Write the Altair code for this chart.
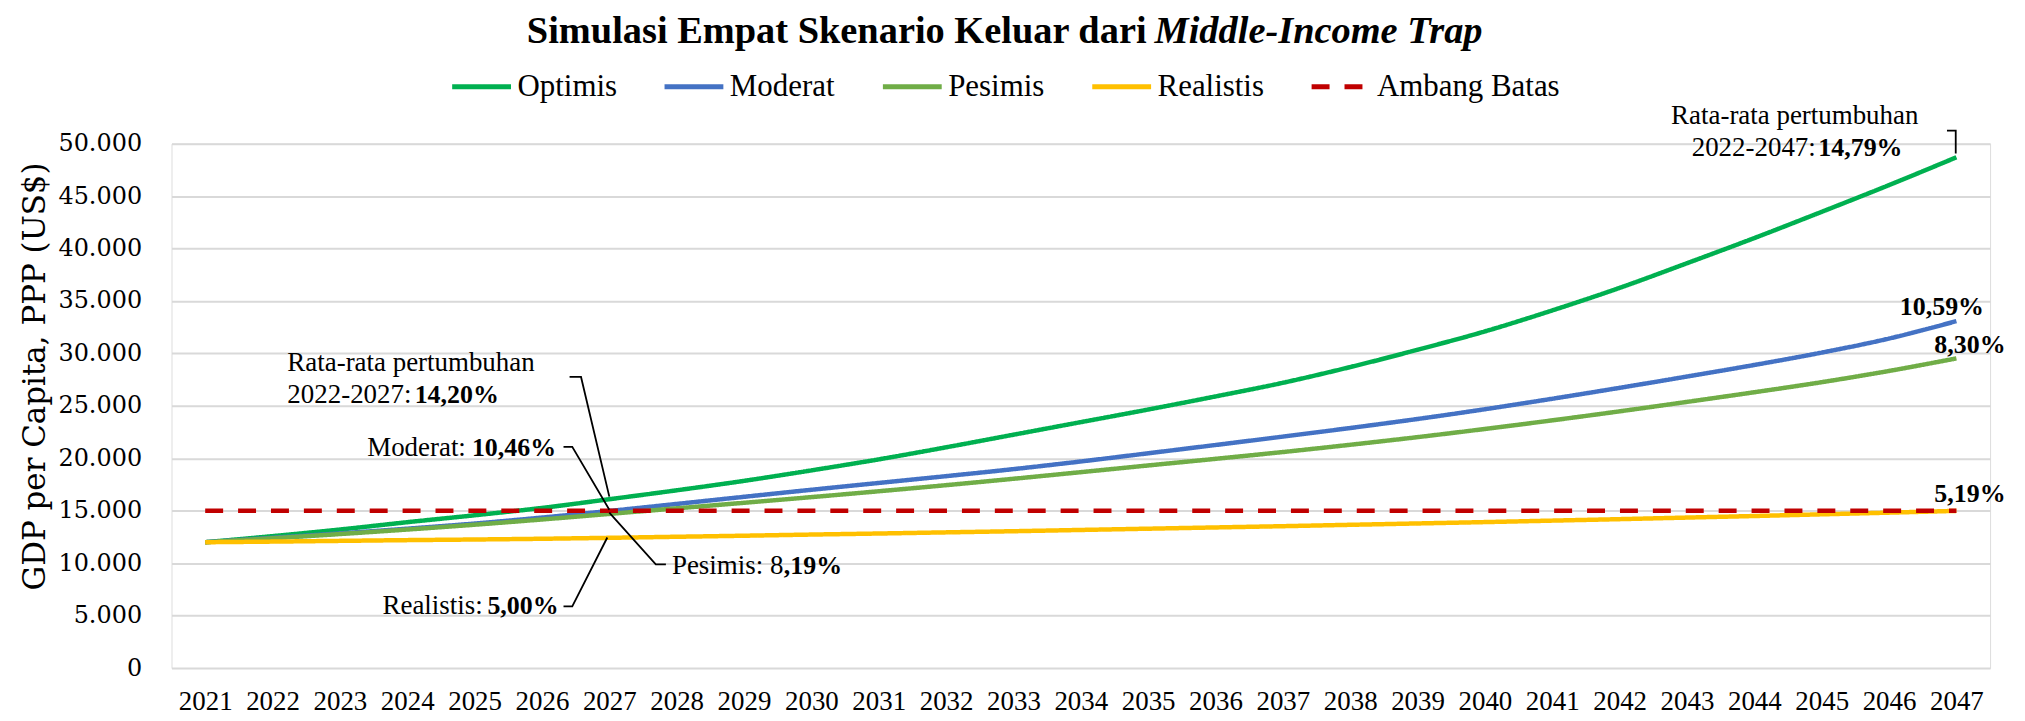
import altair as alt
import pandas as pd

# ---------------- data ----------------
years = list(range(2021, 2048))
optimis = [12000, 12580, 13210, 13910, 14570, 15270, 16100, 16950, 17850, 18850,
           19900, 21050, 22250, 23450, 24650, 25900, 27200, 28700, 30350, 32100,
           34100, 36250, 38600, 41000, 43500, 46050, 48700]
moderat = [12000, 12420, 12840, 13290, 13780, 14350, 14980, 15650, 16330, 17000,
           17650, 18300, 18970, 19700, 20480, 21270, 22070, 22890, 23750, 24680,
           25680, 26720, 27800, 28900, 30080, 31420, 33080]
pesimis = [12000, 12380, 12780, 13210, 13670, 14170, 14700, 15230, 15760, 16300,
           16860, 17440, 18050, 18680, 19320, 19950, 20600, 21290, 22020, 22800,
           23620, 24480, 25380, 26300, 27260, 28330, 29530]
realistis = [12000, 12060, 12130, 12200, 12260, 12330, 12420, 12520, 12620, 12730,
             12830, 12940, 13050, 13170, 13290, 13410, 13530, 13660, 13790, 13920,
             14060, 14200, 14350, 14500, 14660, 14820, 14990]
ambang = [15000, 15000, 15000, 15000, 15000, 15000, 15000, 15000, 15000, 15000,
          15000, 15000, 15000, 15000, 15000, 15000, 15000, 15000, 15000, 15000,
          15000, 15000, 15000, 15000, 15000, 15000, 15000]

series_names = ["Optimis", "Moderat", "Pesimis", "Realistis", "Ambang Batas"]
series_values = [optimis, moderat, pesimis, realistis, ambang]
series_colors = ["#00B050", "#4472C4", "#70AD47", "#FFC000", "#C00000"]
series_dash = [[1, 0], [1, 0], [1, 0], [1, 0], [18, 15]]

y_ticks = [0, 5000, 10000, 15000, 20000, 25000, 30000, 35000, 40000, 45000, 50000]

# annotation texts (year position, value position, text)
reg_left_x = [2022.22, 2022.22, 2027.93, 2043.07]
reg_left_y = [29090, 26050, 9700, 49620]
reg_left_t = ["Rata-rata pertumbuhan", "2022-2027:", "Pesimis: 8", "2022-2047:"]

reg_right_x = [2024.87, 2025.12]
reg_right_y = [21010, 5890]
reg_right_t = ["Moderat:", "Realistis:"]

reg_center_x = [2044.60]
reg_center_y = [52660]
reg_center_t = ["Rata-rata pertumbuhan"]

bold_left_x = [2024.11, 2024.96, 2029.59, 2025.19, 2044.95]
bold_left_y = [26050, 21010, 9700, 5890, 49620]
bold_left_t = ["14,20%", "10,46%", ",19%", "5,00%", "14,79%"]

bold_right_x = [2047.41, 2047.73, 2047.73]
bold_right_y = [34410, 30800, 16640]
bold_right_t = ["10,59%", "8,30%", "5,19%"]

# leader lines
lead_grp = [1, 1, 1, 2, 2, 2, 3, 3, 3, 4, 4, 4, 5, 5, 5]
lead_ord = [0, 1, 2, 0, 1, 2, 0, 1, 2, 0, 1, 2, 0, 1, 2]
lead_x = [2026.41, 2026.58, 2027.00, 2026.32, 2026.45, 2027.00,
          2027.00, 2027.69, 2027.84, 2026.32, 2026.45, 2026.97,
          2046.86, 2046.99, 2046.99]
lead_y = [27760, 27760, 16350, 21100, 21100, 15100,
          14830, 9890, 9890, 5890, 5890, 12450,
          51240, 51240, 49050]

title_main = "Simulasi Empat Skenario Keluar dari"
title_italic = "Middle-Income Trap"

# ---------------- tables ----------------
rows = []
for name, vals in zip(series_names, series_values):
    for yr, v in zip(years, vals):
        rows.append({"year": yr, "value": v, "series": name})
df = pd.DataFrame(rows)

XS = alt.Scale(domain=[2020.5, 2047.5], nice=False, zero=False)
YS = alt.Scale(domain=[0, 50000], nice=False)

SERIF = "Liberation Serif"
YFONT = "DejaVu Serif"

legend = alt.Legend(
    orient="none", legendX=279, legendY=-89, direction="horizontal", columns=5,
    title=None, labelFont=SERIF, labelFontSize=31, labelColor="black",
    symbolType="stroke", symbolSize=3481, symbolStrokeWidth=5,
    columnPadding=37, labelOffset=4, padding=0, labelLimit=0,
)

lines = alt.Chart(df).mark_line(strokeWidth=4.5, strokeCap="butt", interpolate="monotone").encode(
    x=alt.X("year:Q", scale=XS, axis=alt.Axis(
        values=years, format="d", grid=False, domain=False, ticks=False,
        labelFont=SERIF, labelFontSize=27, labelColor="black", labelPadding=21,
        labelOverlap=False, labelFlush=False, labelBound=False, title=None)),
    y=alt.Y("value:Q", scale=YS, axis=alt.Axis(
        values=y_ticks, labelExpr="replace(format(datum.value, ','), ',', '.')",
        domain=False, ticks=False, gridColor="#D9D9D9", gridWidth=2,
        labelFont=YFONT, labelFontSize=24, labelColor="black", labelPadding=30,
        title="GDP per Capita, PPP (US$)", titleFont=YFONT, titleFontSize=31,
        titleFontWeight="normal", titleColor="black", titleX=-136, titleY=233,
        titleBaseline="middle", titleAlign="center")),
    color=alt.Color("series:N", scale=alt.Scale(domain=series_names, range=series_colors),
                    legend=legend),
    strokeDash=alt.StrokeDash("series:N", scale=alt.Scale(domain=series_names, range=series_dash),
                              legend=legend),
)

def text_layer(xs, ys, ts, align, weight):
    d = pd.DataFrame({"x": xs, "y": ys, "t": ts})
    size = 26 if weight == "bold" else 27
    return alt.Chart(d).mark_text(
        font=SERIF, fontSize=size, fontWeight=weight, align=align,
        baseline="middle", color="black"
    ).encode(x=alt.X("x:Q", scale=XS), y=alt.Y("y:Q", scale=YS), text="t:N")

ann = [
    text_layer(reg_left_x, reg_left_y, reg_left_t, "left", "normal"),
    text_layer(reg_right_x, reg_right_y, reg_right_t, "right", "normal"),
    text_layer(reg_center_x, reg_center_y, reg_center_t, "center", "normal"),
    text_layer(bold_left_x, bold_left_y, bold_left_t, "left", "bold"),
    text_layer(bold_right_x, bold_right_y, bold_right_t, "right", "bold"),
]

lead_df = pd.DataFrame({"g": lead_grp, "o": lead_ord, "x": lead_x, "y": lead_y})
leaders = alt.Chart(lead_df).mark_line(color="black", strokeWidth=1.8).encode(
    x=alt.X("x:Q", scale=XS), y=alt.Y("y:Q", scale=YS),
    detail="g:N", order="o:Q")

title_df = pd.DataFrame({"a": [title_main], "b": [title_italic]})
t1 = alt.Chart(title_df).mark_text(
    font=SERIF, fontSize=38.5, fontWeight="bold", align="right", baseline="middle", color="black"
).encode(x=alt.value(978), y=alt.value(-113), text="a:N")
t2 = alt.Chart(title_df).mark_text(
    font=SERIF, fontSize=38.5, fontWeight="bold", fontStyle="italic", align="left",
    baseline="middle", color="black"
).encode(x=alt.value(986), y=alt.value(-113), text="b:N")

chart = alt.layer(lines, leaders, *ann, t1, t2).properties(
    width=1824, height=526,
    padding={"left": 164, "top": 135, "right": 27, "bottom": 50},
    autosize=alt.AutoSizeParams(type="none"),
).configure_view(stroke=None).configure(background="white")

chart.save("out.html", embed_options={"renderer": "svg", "actions": False})
